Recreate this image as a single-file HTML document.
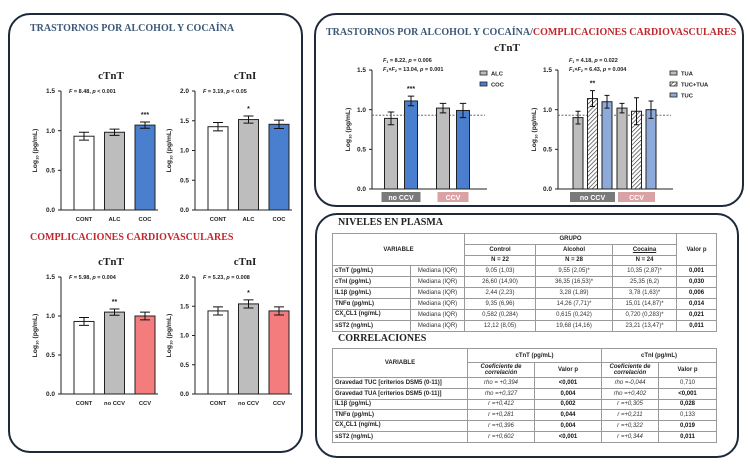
<!DOCTYPE html>
<html><head><meta charset="utf-8">
<style>
body{margin:0;width:750px;height:469px;background:#fff;position:relative;overflow:hidden;font-family:"Liberation Sans",sans-serif}
.panel{position:absolute;border:2px solid #1e2a3a;border-radius:22px;box-sizing:border-box}
.ttl{position:absolute;font-family:"Liberation Serif",serif;font-weight:bold;font-size:10px;white-space:nowrap}
table{position:absolute;border-collapse:collapse;font-size:6px;table-layout:fixed}
td{border:1px solid #9a9a9a;padding:0 2px;height:9.8px;line-height:8px;text-align:center;color:#333;overflow:hidden;white-space:nowrap}
td.l{text-align:left;font-weight:bold;color:#222}
td.h{font-weight:bold;color:#222}
td.b{font-weight:bold;color:#111}
td.i{font-style:italic}
svg{position:absolute;left:0;top:0}
</style></head><body>
<div class="panel" style="left:8px;top:13px;width:295px;height:440px"></div>
<div class="panel" style="left:314px;top:13px;width:430px;height:194px"></div>
<div class="panel" style="left:315px;top:213px;width:424px;height:245px"></div>

<div class="ttl" style="left:30px;top:23px;color:#3b5877;font-size:10px">TRASTORNOS POR ALCOHOL Y COCAÍNA</div>
<div class="ttl" style="left:30px;top:232px;color:#c0282d;font-size:10px">COMPLICACIONES CARDIOVASCULARES</div>
<div class="ttl" style="left:326px;top:27px;font-size:10px"><span style="color:#3b5877">TRASTORNOS POR ALCOHOL Y COCAÍNA/</span><span style="color:#c0282d">COMPLICACIONES CARDIOVASCULARES</span></div>
<div class="ttl" style="left:338px;top:217px;color:#222">NIVELES EN PLASMA</div>
<div class="ttl" style="left:338px;top:333px;color:#222">CORRELACIONES</div>

<table style="left:332px;top:233px;width:384px">
<colgroup><col style="width:78px"><col style="width:54px"><col style="width:71px"><col style="width:77px"><col style="width:64px"><col style="width:40px"></colgroup>
<tr><td class="h" rowspan="3" colspan="2">VARIABLE</td><td class="h" colspan="3">GRUPO</td><td class="h" rowspan="3">Valor p</td></tr>
<tr><td class="h">Control</td><td class="h">Alcohol</td><td class="h" style="text-decoration:underline">Cocaina</td></tr>
<tr><td class="h">N = 22</td><td class="h">N = 28</td><td class="h">N = 24</td></tr>
<tr><td class="l">cTnT (pg/mL)</td><td>Mediana (IQR)</td><td>9,05 (1,03)</td><td>9,55 (2,05)*</td><td>10,35 (2,87)*</td><td class="b">0,001</td></tr>
<tr><td class="l">cTnI (pg/mL)</td><td>Mediana (IQR)</td><td>26,60 (14,90)</td><td>36,35 (16,53)*</td><td>25,35 (6,2)</td><td class="b">0,030</td></tr>
<tr><td class="l">IL1β (pg/mL)</td><td>Mediana (IQR)</td><td>2,44 (2,23)</td><td>3,28 (1,89)</td><td>3,78 (1,63)*</td><td class="b">0,006</td></tr>
<tr><td class="l">TNFα (pg/mL)</td><td>Mediana (IQR)</td><td>9,35 (6,96)</td><td>14,26 (7,71)*</td><td>15,01 (14,87)*</td><td class="b">0,014</td></tr>
<tr><td class="l">CX<sub style="font-size:4px">3</sub>CL1 (ng/mL)</td><td>Mediana (IQR)</td><td>0,582 (0,284)</td><td>0,615 (0,242)</td><td>0,720 (0,283)*</td><td class="b">0,021</td></tr>
<tr><td class="l">sST2 (ng/mL)</td><td>Mediana (IQR)</td><td>12,12 (8,05)</td><td>19,68 (14,16)</td><td>23,21 (13,47)*</td><td class="b">0,011</td></tr>
</table>

<table style="left:332px;top:348px;width:384px">
<colgroup><col style="width:135px"><col style="width:67px"><col style="width:67px"><col style="width:57px"><col style="width:58px"></colgroup>
<tr><td class="h" rowspan="2">VARIABLE</td><td class="h" colspan="2" style="height:13px">cTnT (pg/mL)</td><td class="h" colspan="2">cTnI (pg/mL)</td></tr>
<tr><td class="h i" style="height:14px;white-space:normal;line-height:6.5px">Coeficiente de correlación</td><td class="h">Valor p</td><td class="h i" style="white-space:normal;line-height:6.5px">Coeficiente de correlación</td><td class="h">Valor p</td></tr>
<tr><td class="l">Gravedad TUC [criterios DSM5 (0-11)]</td><td class="i">rho = +0,394</td><td class="b">&lt;0,001</td><td class="i">rho =-0,044</td><td>0,710</td></tr>
<tr><td class="l">Gravedad TUA [criterios DSM5 (0-11)]</td><td class="i">rho =+0,327</td><td class="b">0,004</td><td class="i">rho =+0,402</td><td class="b">&lt;0,001</td></tr>
<tr><td class="l">IL1β (pg/mL)</td><td class="i">r =+0,412</td><td class="b">0,002</td><td class="i">r =+0,305</td><td class="b">0,028</td></tr>
<tr><td class="l">TNFα (pg/mL)</td><td class="i">r =+0,281</td><td class="b">0,044</td><td class="i">r =+0,211</td><td>0,133</td></tr>
<tr><td class="l">CX<sub style="font-size:4px">3</sub>CL1 (ng/mL)</td><td class="i">r =+0,396</td><td class="b">0,004</td><td class="i">r =+0,322</td><td class="b">0,019</td></tr>
<tr><td class="l">sST2 (ng/mL)</td><td class="i">r =+0,602</td><td class="b">&lt;0,001</td><td class="i">r =+0,344</td><td class="b">0,011</td></tr>
</table>

<svg id="charts" width="750" height="469">
<defs><pattern id="hatch" width="3" height="3" patternUnits="userSpaceOnUse" patternTransform="rotate(45)"><rect width="3" height="3" fill="#fff"/><line x1="0" y1="0" x2="0" y2="3" stroke="#333" stroke-width="1.3"/></pattern></defs>
</svg>
<script>
// ---- data ----
const catsA = ["CONT","ALC","COC"];
const tntA = [0.93,0.98,1.07];
const tntAErr = [0.05,0.04,0.04];
const tniA = [1.40,1.52,1.44];
const tniAErr = [0.07,0.06,0.07];
const catsB = ["CONT","no CCV","CCV"];
const tntB = [0.93,1.05,1.00];
const tntBErr = [0.05,0.04,0.05];
const tniB = [1.42,1.54,1.42];
const tniBErr = [0.07,0.07,0.07];
const ticks15 = [0,0.5,1.0,1.5];
const ticks20 = [0,0.5,1.0,1.5,2.0];
const groupsC = ["no CCV","CCV"];
const seriesC = ["ALC","COC"];
const valsC = [[0.89,1.11],[1.02,0.99]];
const errC = [[0.08,0.06],[0.06,0.09]];
const seriesD = ["TUA","TUC+TUA","TUC"];
const valsD = [[0.90,1.14,1.10],[1.02,0.98,1.00]];
const errD = [[0.08,0.10,0.08],[0.06,0.17,0.11]];
const refLine = 0.93;

const svg = document.getElementById('charts');
const NS = 'http://www.w3.org/2000/svg';
function mk(tag, at, parent){const e=document.createElementNS(NS,tag);for(const k in at)e.setAttribute(k,at[k]);(parent||svg).appendChild(e);return e;}
function txt(s, at){const e=mk('text',Object.assign({'font-family':'Liberation Sans, sans-serif','font-size':6,fill:'#222'},at));e.textContent=s;return e;}

function axis(ax,y0,yTop,max,ticks,xEnd,name,labelX){
  const sc=v=>y0-(v/max)*(y0-yTop);
  const g=mk('g',{});
  
  
  mk('line',{x1:ax,y1:y0,x2:ax,y2:yTop,stroke:'#222','stroke-width':1},g);
  mk('line',{x1:ax,y1:y0,x2:xEnd,y2:y0,stroke:'#222','stroke-width':1},g);
  ticks.forEach(t=>{
    mk('line',{x1:ax-3,y1:sc(t),x2:ax,y2:sc(t),stroke:'#222'},g);
    const tl=txt(t.toFixed(1),{x:ax-6,y:sc(t)+2.2,'text-anchor':'end','font-weight':'bold','font-size':6.5});
    
    
  });
  const yl=txt('',{x:labelX,y:(y0+yTop)/2,'text-anchor':'middle','font-weight':'bold','font-size':6.8,transform:`rotate(-90 ${labelX} ${(y0+yTop)/2})`});
  yl.innerHTML='Log<tspan font-size="4" dy="1.5">10</tspan><tspan dy="-1.5"> (pg/mL)</tspan>';
  
  
  return sc;
}
function bar(cx,w,v,e,sc,fill,name){
  const r=mk('rect',{x:cx-w/2,y:sc(v),width:w,height:sc(0)-sc(v),fill:fill,stroke:'#222','stroke-width':1});
  
  
  const eb=mk('path',{d:`M${cx-w/4},${sc(v+e)}H${cx+w/4}M${cx},${sc(v+e)}V${sc(v-e)}M${cx-w/4},${sc(v-e)}H${cx+w/4}`,stroke:'#111','stroke-width':1,fill:'none'});
  
  
}
function simple(title,ax,y0,yTop,max,ticks,cats,vals,errs,fills,ftext,stars,name){
  const sc=axis(ax,y0,yTop,max,ticks,ax+97,name,ax-24);
  const t=txt(title,{x:ax+50,y:yTop-12,'text-anchor':'middle','font-family':'Liberation Serif, serif','font-weight':'bold','font-size':11});
  
  
  const f=txt('',{x:ax+8,y:yTop+2,'font-size':5.5,'font-weight':'bold'});
  f.innerHTML=ftext;
  
  
  cats.forEach((c,i)=>{
    const cx=ax+23+i*30.5;
    bar(cx,20,vals[i],errs[i],sc,fills[i],name+'-bar-'+c.replace(' ','-').toLowerCase());
    const l=txt(c,{x:cx,y:y0+11,'text-anchor':'middle','font-weight':'bold','font-size':5.8});
    
    
    if(stars[i]){const s=txt(stars[i],{x:cx,y:sc(vals[i]+errs[i])-5,'text-anchor':'middle','font-size':7,'font-weight':'bold'});
      
      }
  });
}
simple('cTnT',61,210,91,1.5,ticks15,catsA,tntA,tntAErr,['#fff','#bdbdbd','#4a7fcf'],'<tspan font-style="italic">F</tspan> = 8.48, <tspan font-style="italic">p</tspan> &lt; 0.001',['','','***'],'top-ctnt');
simple('cTnI',195,210,91,2.0,ticks20,catsA,tniA,tniAErr,['#fff','#bdbdbd','#4a7fcf'],'<tspan font-style="italic">F</tspan> = 3.19, <tspan font-style="italic">p</tspan> &lt; 0.05',['','*',''],'top-ctni');
simple('cTnT',61,394,277,1.5,ticks15,catsB,tntB,tntBErr,['#fff','#bdbdbd','#f47c7c'],'<tspan font-style="italic">F</tspan> = 5.98, <tspan font-style="italic">p</tspan> = 0.004',['','**',''],'bottom-ctnt');
simple('cTnI',195,394,277,2.0,ticks20,catsB,tniB,tniBErr,['#fff','#bdbdbd','#f47c7c'],'<tspan font-style="italic">F</tspan> = 5.23, <tspan font-style="italic">p</tspan> = 0.008',['','*',''],'bottom-ctni');

// grouped charts
const ct=txt('cTnT',{x:507,y:51,'text-anchor':'middle','font-family':'Liberation Serif, serif','font-weight':'bold','font-size':11});


function grouped(ax,series,vals,errs,fills,barW,step,groupStart,groupGap,ftext,stars,legX,name){
  const y0=189,yTop=70;
  const sc=axis(ax,y0,yTop,1.5,ticks15,ax+115,name,ax-22);
  const f=txt('',{x:ax+11,y:62,'font-size':5.5,'font-weight':'bold'});
  f.innerHTML=ftext[0];
  
  
  const f2=txt('',{x:ax+11,y:71,'font-size':5.5,'font-weight':'bold'});
  f2.innerHTML=ftext[1];
  
  
  const dl=mk('line',{x1:ax,y1:sc(refLine),x2:ax+113,y2:sc(refLine),stroke:'#555','stroke-dasharray':'2,1.5','stroke-width':0.9});
  
  
  groupsC.forEach((g,gi)=>{
    const gx=ax+groupStart+gi*groupGap;
    series.forEach((s,si)=>{
      const cx=gx+si*step;
      bar(cx,barW,vals[gi][si],errs[gi][si],sc,fills[si],name+'-bar-'+g.replace(' ','-').toLowerCase()+'-'+s.toLowerCase());
    });
    const last=gx+(series.length-1)*step;
    const mid=(gx+last)/2, bw=gi===0?(last-gx+barW+6):(last-gx+barW-2);
    const box=mk('rect',{x:mid-bw/2,y:192,width:bw,height:10,fill:gi===0?'#7a7a7a':'#d9a3a3'});
    
    
    const gl=txt(g,{x:mid,y:200,'text-anchor':'middle',fill:'#fff','font-weight':'bold','font-size':7});
    
    
  });
  if(stars){const s=txt(stars[0],{x:ax+groupStart+stars[1]*step,y:sc(vals[0][stars[1]]+errs[0][stars[1]])-5,'text-anchor':'middle','font-size':7,'font-weight':'bold'});
    
    }
  series.forEach((s,si)=>{
    const r=mk('rect',{x:legX,y:71+si*11,width:7,height:4,fill:fills[si],stroke:'#222','stroke-width':0.8});
    
    
    const l=txt(s,{x:legX+11,y:75.5+si*11,'font-weight':'bold','font-size':5.8});
    
    
  });
}
grouped(372,seriesC,valsC,errC,['#bdbdbd','#4a7fcf'],13,20,19,52,
  ['<tspan font-style="italic">F</tspan><tspan font-size="3.5" dy="1">1</tspan><tspan dy="-1"> = 8.22, </tspan><tspan font-style="italic">p</tspan> = 0.006','<tspan font-style="italic">F</tspan><tspan font-size="3.5" dy="1">1</tspan><tspan dy="-1">×</tspan><tspan font-style="italic">F</tspan><tspan font-size="3.5" dy="1">2</tspan><tspan dy="-1"> = 13.04, </tspan><tspan font-style="italic">p</tspan> = 0.001'],
  ['***',1],480,'grouped-alc-coc');
grouped(558,seriesD,valsD,errD,['#bdbdbd','url(#hatch)','#8eaadb'],10,14.5,20,44,
  ['<tspan font-style="italic">F</tspan><tspan font-size="3.5" dy="1">1</tspan><tspan dy="-1"> = 4.18, </tspan><tspan font-style="italic">p</tspan> = 0.022','<tspan font-style="italic">F</tspan><tspan font-size="3.5" dy="1">1</tspan><tspan dy="-1">×</tspan><tspan font-style="italic">F</tspan><tspan font-size="3.5" dy="1">2</tspan><tspan dy="-1"> = 6.43, </tspan><tspan font-style="italic">p</tspan> = 0.004'],
  ['**',1],670,'grouped-tua-tuc');
</script>
</body></html>
